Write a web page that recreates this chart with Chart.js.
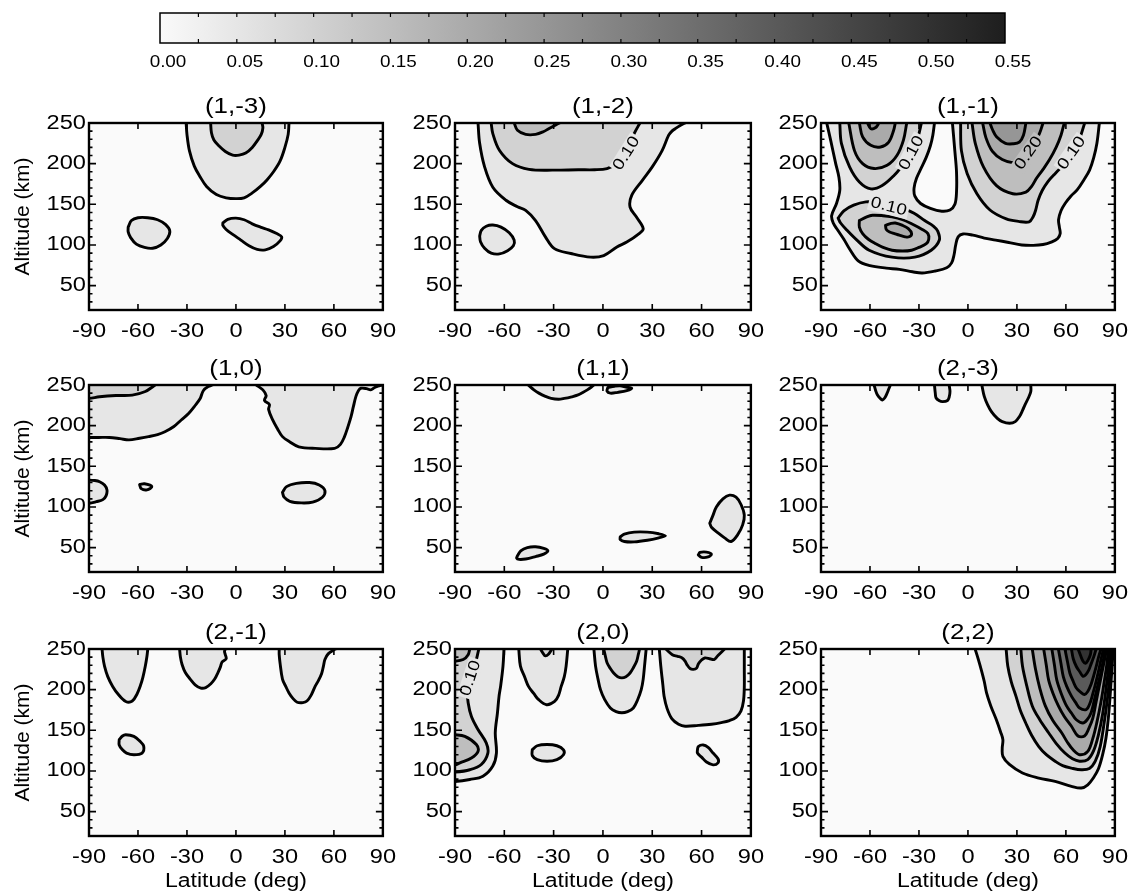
<!DOCTYPE html>
<html>
<head>
<meta charset="utf-8">
<script src="https://cdn.jsdelivr.net/npm/chart.js@4.4.1/dist/chart.umd.min.js"></script>
<style>
  body { margin: 0; background: #fff; }
  #fig { position: relative; width: 1134px; height: 891px; overflow: hidden; }
  #fig canvas { position: absolute; }
</style>
</head>
<body>
<div id="fig"></div>
<script>
// axis ticks
const latTicks = [-90, -60, -30, 0, 30, 60, 90];
const altTicks = [50, 100, 150, 200, 250];
const barTicks = [0, 0.05, 0.10, 0.15, 0.20, 0.25, 0.30, 0.35, 0.40, 0.45, 0.50, 0.55];

const titles = ['(1,-3)', '(1,-2)', '(1,-1)', '(1,0)', '(1,1)', '(2,-3)', '(2,-1)', '(2,0)', '(2,2)'];

// contour outlines, [latitude, altitude] pairs
// (1,-3)
const p1_a = [[-30.5,250],[-30,236],[-28.5,216],[-25.5,197],[-22,184],[-18,172],[-12,162],[-6,158],[0,157],[5,158],[10,164],[15,172],[19,180],[23,190],[27,203],[30,220],[32,236],[32.5,250]];
const p1_b = [[-15.5,250],[-15,238],[-13.5,229],[-10.5,222],[-6.5,215],[-2,210.5],[2,210.5],[6,213],[10,220],[13,228],[15.5,236],[16.5,244],[16,250]];
const p1_c = [[-66,122],[-64,130],[-60,133.5],[-54,133.5],[-48,131],[-43,125],[-40.5,117],[-42,108],[-46,100],[-51,96],[-56,97],[-61,101],[-64.5,109],[-66,116],[-66,122]];
const p1_d = [[-8,127],[-5,131.5],[0,133],[5,131],[10,126],[15,122],[20,118.5],[25,114],[28,110],[27,105],[23,98],[18,94],[13,94.5],[8,99],[3,106],[-2,113],[-6,119],[-8,124],[-8,127]];

// (1,-2)
const p2_a = [[-76,250],[-75,225],[-72,196],[-67,171],[-59,155],[-52,147],[-47,142.5],[-41,130],[-35,110],[-29.5,95.5],[-19.5,89.5],[-7.5,85],[0.5,87],[8.5,97.5],[14.5,103.5],[22,114],[24.5,120],[20.5,134],[16.5,146.5],[17.5,161],[24,179.5],[30,196],[36,216],[40,235],[42,240],[44,243],[47,247],[50,250]];
const p2_b = [[-68,250],[-67,237],[-63,216.5],[-55,200],[-45,193],[-30,192],[-15,192.5],[-5,192.5],[2.5,194],[8.5,200],[12.5,208],[16.5,224.5],[19,237],[22.5,250]];
const p2_c = [[-54,250],[-52,241],[-47,236],[-41,236],[-36,239.5],[-33,243],[-26.5,250]];
const p2_d = [[-75,111],[-74,118],[-71,123],[-67,124.5],[-62,122],[-57,115],[-54,106],[-54.5,99],[-58,93],[-63,89],[-68,90],[-72,96],[-74.5,104],[-75,111]];

// (1,-1)
const p3_a = [[-86.5,250],[-84,228],[-81,200],[-79,183],[-78.5,167],[-80.5,151],[-83.5,136],[-82.5,127],[-80,119],[-76,107],[-72.5,95],[-67,80],[-60,74.5],[-50,71.5],[-42,70],[-34,67],[-28,65.5],[-20,68],[-13,72],[-10,78],[-8.5,88],[-7.5,100],[-6,110],[-3,113.5],[3,112],[10,108.5],[17,106],[25,103],[33,100],[40,99.5],[46,100.5],[51,103.5],[55,108],[56.5,114],[56,122],[55.5,131],[57,142],[59.5,151],[63,160],[67,168],[71,180],[74.5,192],[77,207],[79,225],[80.5,250]];
const p3_b = [[-20.5,250],[-21.5,235],[-23,222],[-25.5,208],[-28.5,195],[-31.5,182],[-33,170],[-32.5,160],[-29,151],[-23,145],[-16,141.5],[-11,143],[-8,150],[-7,165],[-7,190],[-8,215],[-9.5,250]];
const p3_c = [[-78.5,250],[-77.5,225],[-72.5,196],[-66.5,177.5],[-59.5,169],[-52.5,173],[-45,186],[-40,198],[-36.5,208],[-33,220],[-30.5,233],[-28.5,250]];
const p3_d = [[-73,250],[-69.5,216],[-64.5,200],[-57.5,194],[-49.5,198],[-43.5,210],[-39.5,229],[-37.5,250]];
const p3_e = [[-66.5,250],[-64.5,233],[-59.5,222.5],[-53.5,220.5],[-48.5,226.5],[-45.5,241],[-44.5,250]];
const p3_f = [[-61.5,250],[-59.5,243],[-56.5,244.5],[-54.5,250]];
const p3_g = [[-79.5,133],[-76,142],[-70,149],[-62.5,153],[-55,152],[-47,149],[-40,145],[-33,139],[-26.5,130],[-21,123],[-18.5,117],[-17.5,106],[-22.5,93.5],[-32.5,85],[-46.5,85],[-60.5,93.5],[-68,106],[-74,118],[-78,127],[-79.5,133]];
const p3_h = [[-66.5,130],[-62,134.5],[-58.5,136.5],[-52,136],[-46.5,134.5],[-40,131],[-34.5,126],[-28,119],[-24.5,114],[-24,107],[-25.5,101.5],[-30,97],[-34.5,93.5],[-40,92.5],[-46.5,93.5],[-52,97],[-56.5,101.5],[-61,107],[-64.5,114],[-66.5,122],[-66.5,130]];
const p3_i = [[-50.5,124],[-47,126.5],[-44.5,127],[-40,124],[-36.5,120],[-34.5,114],[-36,110],[-38.5,110],[-42,112],[-45,114],[-48,116],[-50,119],[-50.5,124]];
const p3_j = [[-4.5,250],[-4,216],[-0.5,188],[5.5,163],[13.5,143],[23.5,132],[31,129],[37.5,128.5],[40,135],[41.5,143],[43,155],[45.5,167],[49,178],[53.5,188],[58,197],[61.5,204],[64,213],[67.5,225],[69.5,237],[71.5,250]];
const p3_k = [[2.5,250],[4.5,225],[9.5,196],[17.5,173],[27.5,163],[35.5,165],[39,172],[42,182],[46,193],[50,205],[54,220],[57,235],[59,250]];
const p3_l = [[9,250],[11,232],[15,215],[21,205],[28,201],[33,204],[37,213],[41,225],[44,238],[46,250]];
const p3_m = [[13.5,250],[15,242],[17.5,233],[23,225],[28,224.5],[31.5,226.5],[34,235],[35.5,250]];

// (1,0)
const p4_a = [[-14.5,250],[-17,248],[-20,243],[-22,233],[-25.5,223.5],[-29,215],[-33.5,207],[-38,199],[-43.5,192.5],[-48,189],[-53.5,186.5],[-59,184.5],[-65.5,182.5],[-71,184],[-77.5,185.5],[-84,185.5],[-90,185.5],[-96,185.5],[-96,256]];
const p4_b = [[-49.5,250],[-50.5,248.5],[-55.5,242],[-63.5,237.5],[-73.5,237],[-83.5,235.5],[-90,233.5],[-96,233.5],[-96,256]];
const p4_c = [[12.5,250],[16.5,244],[18.5,237],[17.5,231],[20.5,226],[20,220],[22.5,207],[25.5,196],[28.5,186.5],[33,180],[38.5,174],[48.5,172],[60.5,172],[64,177],[66.5,186.5],[68.5,198],[70.5,211],[72,224],[73.5,236],[75,243],[76.5,246],[80,245.5],[82.5,244],[85,247],[87,248.5],[89.5,250]];
const p4_d = [[-96,133],[-90,133],[-86.5,132.5],[-83.5,131],[-80.5,127],[-79,121],[-79.5,114],[-81.5,109],[-85.5,106.5],[-90,104.5],[-96,104.5]];
const p4_e = [[-59,127.5],[-56,128.5],[-51.5,125],[-54.5,121],[-58,122.5],[-59,127.5]];
const p4_f = [[28.5,118],[31,125],[37,129],[45,130],[51,127],[54.5,120],[53,112],[47,106],[40,105],[33,107],[29.5,112],[28.5,118]];

// (1,1)
const p5_a = [[-45.5,250],[-42,244],[-39,240],[-35,236],[-31.5,233.5],[-27,232.5],[-23.5,233.5],[-19,235.5],[-15.5,237.5],[-12,241],[-9.5,244],[-7,247.5],[-5.5,250]];
const p5_b = [[3,247],[7,248.5],[10.5,249],[14,247.5],[17.5,246],[14.5,243],[9,241],[4.5,240],[2.5,242.5],[3,247]];
const p5_c = [[-52,40],[-50,46],[-46,50],[-41,51],[-36,49],[-33.5,46],[-36,42],[-41,39],[-47,36],[-51,35.5],[-52.5,37],[-52,40]];
const p5_d = [[10.5,63],[13,66.5],[19,69],[27,69],[34,67],[38,64.5],[34,62],[27,59],[19,57],[13,57.5],[10.5,60],[10.5,63]];
const p5_e = [[65,80],[67,90],[69,100],[73,110],[77,114.5],[81,112],[84,103],[86,90],[85,78],[82,66],[78,57.5],[74,62],[70,68],[66,75],[65,80]];
const p5_f = [[58,41],[59,44],[63,44.5],[66,42],[64,38.5],[60,38],[58,41]];

// (2,-3)
const p6_a = [[-57.5,250],[-56.5,243],[-55.5,238],[-53.5,233],[-52.5,231.5],[-51,234],[-49.5,240],[-48.5,245],[-47.5,250]];
const p6_b = [[-20.5,250],[-20,240],[-19.5,234],[-17.5,230.5],[-15.5,229.5],[-12.5,231],[-11.5,235],[-11,242],[-11.5,250]];
const p6_c = [[8.5,250],[10,236],[12,226],[14.5,217],[18,209],[21,205],[25.5,203],[29,205],[31.5,211],[33.5,219],[35,226],[37,234],[38.5,242],[38.5,250]];

// (2,-1)
const p7_a = [[-82,250],[-81.5,240],[-80.5,229],[-78.5,216],[-75.5,204],[-72,194],[-67.5,185.5],[-63.5,186],[-60.5,195],[-58.5,205],[-57,215],[-55.5,229],[-54.5,241],[-54,250]];
const p7_b = [[-34.5,250],[-34,240],[-33,231],[-31,221],[-28,213],[-25,206],[-21.5,202],[-18.5,202.5],[-15.5,207],[-13,213],[-11,221],[-9.5,228],[-8.5,234],[-6,238],[-6.5,243],[-7,247],[-6.5,250]];
const p7_c = [[26.5,250],[26.5,243],[27,233],[28.5,213],[30.5,204],[32.5,196],[35,189],[37.5,184.5],[41,184],[43.5,186],[46,193],[48.5,204],[50.5,211],[52.5,220],[53.5,228],[54.5,237],[56.5,244],[60.5,249.5],[61,250]];
const p7_d = [[-71.5,138.5],[-69.5,143],[-67.5,144.5],[-62.5,142.5],[-59,137],[-56.5,130.5],[-57.5,122],[-62.5,120],[-67,122],[-69.5,126],[-71.5,132],[-71.5,138.5]];

// (2,0)
const p8_a = [[-60.2,250],[-60.8,229],[-62.2,205],[-63.2,192],[-64.2,171],[-65.5,147],[-64.8,122],[-67,106],[-73,93.5],[-81,89.5],[-90,87],[-96,87],[-96,256]];
const p8_b = [[-75.5,250],[-78,229],[-81,212],[-82.5,200],[-82,184],[-80,167],[-76,151],[-71,134.5],[-70,122],[-74,108],[-81,101.5],[-90,98.5],[-96,98.5],[-96,256]];
const p8_c = [[-81,250],[-82,243],[-85,237],[-90,235],[-96,235],[-96,256]];
const p8_d = [[-96,145],[-90,144.5],[-84,142.5],[-77,132.5],[-76,124],[-80,116],[-87,110],[-90,107.5],[-96,107.5]];
const p8_e = [[-51.2,250],[-50.2,229],[-47.5,215],[-45.3,204],[-42,195],[-39.3,188],[-34.3,181.5],[-29.4,185.5],[-27,193],[-25.4,204],[-23.5,216],[-22.4,229],[-21.4,250]];
const p8_f = [[-38,250],[-36.5,245],[-35,241.5],[-33,244],[-31,250]];
const p8_g = [[-5.5,250],[-4.5,229],[-3,213],[-1.5,200],[1,188],[4.5,177.5],[8,173],[11.5,171.5],[15,173],[18.5,177.5],[21,187],[23.3,200],[24.5,213],[25.3,229],[26.3,250]];
const p8_h = [[0.5,250],[1.5,241],[2.5,233],[4.5,226],[6.5,220.5],[9,216],[11.5,214.5],[14,216],[16.5,220.5],[18.5,227],[20.5,235],[21.5,243],[22.3,250]];
const p8_i = [[34.3,250],[35.2,229],[36.5,205],[37.2,192],[39,177],[42,164],[46,157.5],[50,155],[58,156],[66,157.5],[72,159.5],[77,162],[81,166],[84,174],[85.5,186],[86,203],[86,225],[86,250]];
const p8_j = [[38.2,250],[42.2,243],[45.5,241],[48.2,239],[50,235],[51.2,230.5],[53,226],[55,225],[57,226.5],[58.1,232],[60,236.5],[62,239],[65,238],[67.5,237],[70,242],[72.5,247],[74,250]];
const p8_k = [[-43,126],[-40,131],[-34,132.5],[-28,131],[-24,126],[-24,120],[-28,114],[-34,112],[-40,114],[-43,119],[-43,126]];
const p8_l = [[57.5,126],[58,130],[61,132],[64,129],[67,122],[70,115],[70,110],[67,107.5],[63,111],[60,117],[57.5,122],[57.5,126]];

// (2,2)
const p9_a = [[4.4,250],[6.4,237],[8.5,222],[10,210],[11.4,196],[14,180],[17.4,163],[20,148],[21.4,138.5],[21,128],[21.4,118],[25.4,108],[33.4,97.5],[43.4,91.3],[53.4,87.2],[63.4,81.1],[69.4,79],[73.4,83],[77,92],[80,103],[82.5,120],[84.5,140],[86,165],[87,190],[88,220],[89,250]];
const p9_b = [[23.4,250],[24.4,229],[26.5,210],[29.4,192],[32,175],[35.4,159],[39,144],[43.4,130],[48,120],[53.4,112],[58,106.5],[63.4,103.5],[69.4,101.5],[74.4,103],[78,112],[81,130],[83.5,160],[85.5,190],[87,220],[88,250]];
const p9_c = [[32.4,250],[33.4,229],[36,205],[39.4,180],[44,163],[49.4,147],[54,134],[59.4,122],[64,115],[68.4,112],[73.4,114],[77,125],[80,145],[82.5,170],[84.5,200],[86,225],[87,250]];
const p9_d = [[39.4,250],[41.4,225],[44,202],[47.4,180],[52,162],[57.4,147],[61,135],[64.4,126],[68.4,120],[73.4,124],[76.5,140],[79,160],[81.5,185],[83.5,210],[85,230],[86,250]];
const p9_e = [[46.4,250],[48,230],[49.4,212],[52,196],[55.4,180],[59,167],[63.4,155],[67.4,143],[71.4,143],[74,152],[76.5,165],[78.5,185],[80.5,205],[82.5,225],[84,240],[85,250]];
const p9_f = [[51.4,250],[53,230],[54.4,212],[57,196],[60.4,180],[63.5,171],[66.4,163],[70.4,159],[73,163],[75.5,172],[77.5,188],[79.5,205],[81.5,222],[83,237],[84,250]];
const p9_g = [[55.4,250],[57,232],[58.4,216],[60.5,204],[63.4,192],[66,184],[68.4,177.5],[72.4,175.5],[74.5,182],[76.5,195],[78.5,210],[80,223],[81.5,237],[83,250]];
const p9_h = [[59.4,250],[61,234],[62.4,220.5],[64.5,210],[66.4,202],[69,197],[71.4,194],[73.5,198],[75.5,207],[77,217],[78.5,228],[80,240],[81.5,250]];
const p9_i = [[63.4,250],[64.5,238],[66.4,228.5],[68.5,222],[70.4,216.5],[72,218],[74,224],[75.5,232],[77,240],[78.5,250]];
const p9_j = [[67.5,250],[69,242],[70.5,235],[72,232.5],[73.5,236],[75,243],[75.5,250]];

// contour level of each outline, listed bottom to top
const panelContours = [
  [[0.05, p1_a], [0.10, p1_b], [0.05, p1_c], [0.05, p1_d]],
  [[0.05, p2_a], [0.10, p2_b], [0.15, p2_c], [0.05, p2_d]],
  [[0.05, p3_a], [0.00, p3_b], [0.10, p3_c], [0.15, p3_d], [0.20, p3_e], [0.25, p3_f],
   [0.10, p3_g], [0.15, p3_h], [0.20, p3_i], [0.10, p3_j], [0.15, p3_k], [0.20, p3_l], [0.25, p3_m]],
  [[0.05, p4_a], [0.10, p4_b], [0.05, p4_c], [0.05, p4_d], [0.05, p4_e], [0.05, p4_f]],
  [[0.05, p5_a], [0.05, p5_b], [0.05, p5_c], [0.05, p5_d], [0.05, p5_e], [0.05, p5_f]],
  [[0.05, p6_a], [0.05, p6_b], [0.05, p6_c]],
  [[0.05, p7_a], [0.05, p7_b], [0.05, p7_c], [0.05, p7_d]],
  [[0.05, p8_a], [0.10, p8_b], [0.15, p8_c], [0.15, p8_d], [0.05, p8_e], [0.10, p8_f],
   [0.05, p8_g], [0.10, p8_h], [0.05, p8_i], [0.10, p8_j], [0.05, p8_k], [0.05, p8_l]],
  [[0.05, p9_a], [0.10, p9_b], [0.15, p9_c], [0.20, p9_d], [0.25, p9_e], [0.30, p9_f],
   [0.35, p9_g], [0.40, p9_h], [0.45, p9_i], [0.50, p9_j]]
];

// inline contour labels: [text, latitude, altitude]
const panelLabels = [
  [],
  [['0.10', 14.4, 212.7]],
  [['0.10', -34.5, 213], ['0.10', -48.6, 147], ['0.20', 37.2, 213], ['0.10', 63.6, 213]],
  [], [], [], [],
  [['0.10', -80.5, 214]],
  []
];
const labelTilt = [[], [-58], [-62, 14, -55, -55], [], [], [], [], [-72], []];

const FONT = "'Liberation Sans', Arial, Helvetica, sans-serif";
Chart.defaults.font.family = FONT;
Chart.defaults.color = '#000';

// IDL-style grey ramp
const gray = v => {
  const g = Math.round(250 - 400 * v);
  return `rgb(${g},${g},${g})`;
};

// PostScript fonts in the original run wide; stretch upright text a little
const wideText = {
  id: 'wideText',
  beforeInit(chart) {
    const ctx = chart.ctx;
    const fillText = ctx.fillText;
    ctx.fillText = function (text, x, y) {
      const m = this.getTransform();
      this.save();
      this.translate(x, y);
      if (Math.abs(m.a) > 0.1) this.scale(1.18, 1);
      fillText.call(this, text, 0, 0);
      this.restore();
    };
  }
};

const plotBack = {
  id: 'plotBack',
  beforeDraw(chart) {
    const {ctx, chartArea: a} = chart;
    ctx.save();
    ctx.fillStyle = gray(0);
    ctx.fillRect(a.left, a.top, a.width, a.height);
    ctx.restore();
  }
};

// box with inward ticks on all four sides, plus the inline level labels
const frame = {
  id: 'frame',
  afterDatasetsDraw(chart, args, opts) {
    const {ctx, chartArea: a, scales: {x, y}} = chart;
    ctx.save();

    (opts.items || []).forEach(([text, lat, alt], k) => {
      const px = x.getPixelForValue(lat), py = y.getPixelForValue(alt);
      ctx.save();
      ctx.translate(px, py);
      ctx.rotate((opts.tilt[k] || 0) * Math.PI / 180);
      ctx.font = `16px ${FONT}`;
      const w = ctx.measureText(text).width * 1.18 + 4;
      ctx.fillStyle = gray(parseFloat(text) - 0.05);
      ctx.fillRect(-w / 2, -8, w, 16);
      ctx.fillStyle = '#000';
      ctx.textAlign = 'center';
      ctx.textBaseline = 'middle';
      ctx.fillText(text, 0, 0);
      ctx.restore();
    });

    ctx.strokeStyle = '#000';
    ctx.lineWidth = 1.6;
    ctx.beginPath();
    latTicks.slice(1, -1).forEach(v => {
      const px = x.getPixelForValue(v);
      ctx.moveTo(px, a.bottom); ctx.lineTo(px, a.bottom - 6);
      ctx.moveTo(px, a.top); ctx.lineTo(px, a.top + 6);
    });
    for (let v = 30; v < 250; v += 10) {
      const len = altTicks.includes(v) ? 7 : 3.5;
      const py = y.getPixelForValue(v);
      ctx.moveTo(a.left, py); ctx.lineTo(a.left + len, py);
      ctx.moveTo(a.right, py); ctx.lineTo(a.right - len, py);
    }
    ctx.stroke();
    ctx.lineWidth = 2.4;
    ctx.strokeRect(a.left, a.top, a.width, a.height);
    ctx.restore();
  }
};

const fig = document.getElementById('fig');
function addCanvas(left, top, w, h) {
  const c = document.createElement('canvas');
  c.width = w; c.height = h;
  c.style.left = left + 'px'; c.style.top = top + 'px';
  c.style.width = w + 'px'; c.style.height = h + 'px';
  fig.appendChild(c);
  return c;
}

const colLeft = [89, 455, 821];
const colWidth = [300, 302, 300];
const rowTop = [123, 385, 649];
const plotH = 187;

titles.forEach((title, i) => {
  const col = i % 3, row = Math.floor(i / 3);
  const padL = 86, padT = 50, padR = 14, padB = 60;
  const canvas = addCanvas(colLeft[col] - padL, rowTop[row] - padT,
    padL + colWidth[col] + padR, padT + plotH + padB);

  const datasets = panelContours[i].map(([level, pts]) => ({
    data: pts.map(([x, y]) => ({x, y})),
    fill: 'shape',
    backgroundColor: gray(level),
    borderColor: '#000',
    borderWidth: 2.9,
    tension: 0.35,
    pointRadius: 0,
    clip: 0
  })).reverse();

  new Chart(canvas, {
    type: 'line',
    data: {datasets},
    options: {
      responsive: false,
      animation: false,
      devicePixelRatio: 1,
      layout: {padding: {right: padR}},
      elements: {line: {borderJoinStyle: 'round', borderCapStyle: 'round'}},
      plugins: {
        legend: {display: false},
        tooltip: {enabled: false},
        title: {
          display: true, text: title, color: '#000', fullSize: false,
          font: {size: 22, weight: 'normal'},
          padding: {top: 20.8, bottom: 2.8}
        },
        frame: {items: panelLabels[i], tilt: labelTilt[i]}
      },
      scales: {
        x: {
          type: 'linear', min: -90, max: 90,
          grid: {display: false, drawTicks: false}, border: {display: false},
          afterBuildTicks: s => { s.ticks = latTicks.map(v => ({value: v})); },
          afterFit: s => { s.height = padB; },
          ticks: {font: {size: 20}, padding: 9, maxRotation: 0, autoSkip: false},
          title: {
            display: row === 2, text: 'Latitude (deg)',
            font: {size: 19.5}, padding: {top: 0, bottom: 2.6}
          }
        },
        y: {
          type: 'linear', min: 20, max: 250,
          grid: {display: false, drawTicks: false}, border: {display: false},
          afterBuildTicks: s => { s.ticks = altTicks.map(v => ({value: v})); },
          afterFit: s => { s.width = padL; },
          ticks: {font: {size: 20}, padding: 3, autoSkip: false},
          title: {
            display: col === 0, text: 'Altitude (km)',
            font: {size: 21}, padding: {top: 8, bottom: 0}
          }
        }
      }
    },
    plugins: [wideText, plotBack, frame]
  });
});

// colour bar
const barFrame = {
  id: 'barFrame',
  afterDatasetsDraw(chart) {
    const {ctx, chartArea: a, scales: {x}} = chart;
    ctx.save();
    ctx.strokeStyle = '#000';
    ctx.lineWidth = 1.2;
    ctx.beginPath();
    for (let k = 1; k < 22; k++) {
      const px = x.getPixelForValue(k * 0.025);
      ctx.moveTo(px, a.top); ctx.lineTo(px, a.top + 4);
      ctx.moveTo(px, a.bottom); ctx.lineTo(px, a.bottom - 4);
    }
    ctx.stroke();
    ctx.lineWidth = 1.5;
    ctx.strokeRect(a.left, a.top, a.width, a.height);
    ctx.restore();
  }
};

const barLo = barTicks[0], barHi = barTicks[barTicks.length - 1];
new Chart(addCanvas(120, 0, 925, 80), {
  type: 'bar',
  data: {
    labels: [''],
    datasets: [{
      data: [[barLo, barHi]],
      barPercentage: 1,
      categoryPercentage: 1,
      borderWidth: 0,
      backgroundColor: c => {
        const {chart} = c;
        if (!chart.chartArea) return gray(0.25);
        const x = chart.scales.x;
        const g = chart.ctx.createLinearGradient(x.getPixelForValue(barLo), 0, x.getPixelForValue(barHi), 0);
        g.addColorStop(0, gray(barLo));
        g.addColorStop(1, gray(barHi));
        return g;
      }
    }]
  },
  options: {
    indexAxis: 'y',
    responsive: false,
    animation: false,
    devicePixelRatio: 1,
    layout: {padding: {left: 40, right: 40, top: 13}},
    plugins: {legend: {display: false}, tooltip: {enabled: false}},
    scales: {
      x: {
        min: barLo, max: barHi,
        grid: {display: false, drawTicks: false}, border: {display: false},
        afterBuildTicks: s => { s.ticks = barTicks.map(v => ({value: v})); },
        afterFit: s => { s.height = 37; },
        ticks: {font: {size: 16}, padding: 10, labelOffset: 8, maxRotation: 0, autoSkip: false,
          callback: v => Number(v).toFixed(2)}
      },
      y: {display: false}
    }
  },
  plugins: [wideText, barFrame]
});
</script>
</body>
</html>
